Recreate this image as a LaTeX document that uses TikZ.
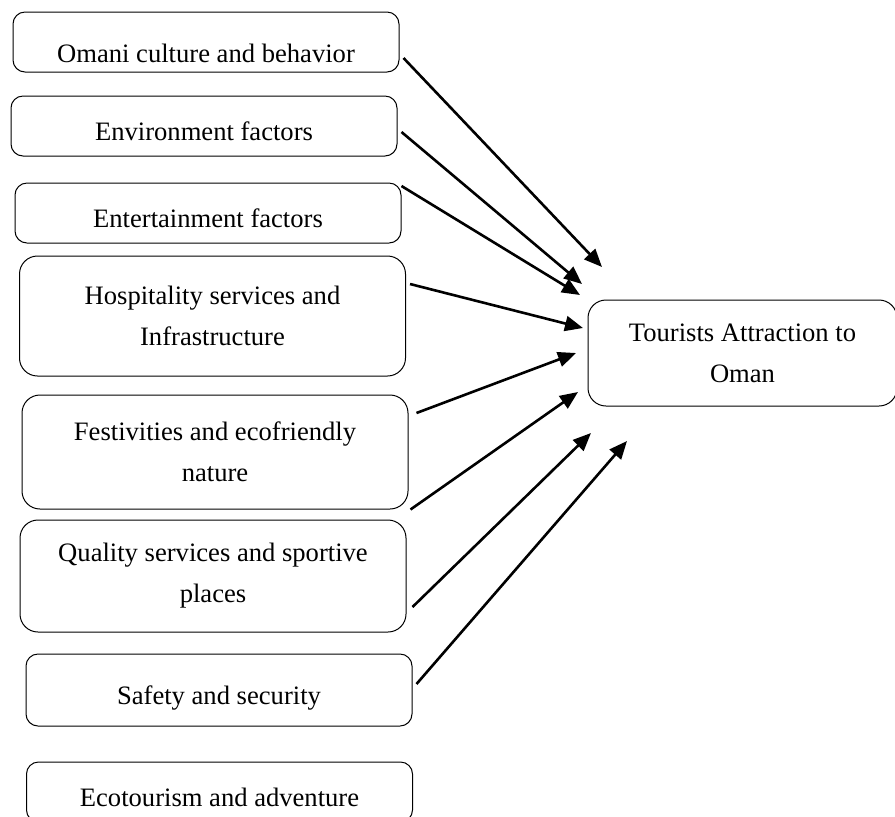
\documentclass[tikz,border=0pt]{standalone}
\usepackage{fontspec}
\setmainfont{Liberation Serif}
\usetikzlibrary{arrows.meta}
\begin{document}
\begin{tikzpicture}[x=0.5pt,y=-0.5pt,
    factor/.style={draw,line width=0.5pt,rounded corners=6pt,minimum width=193pt,
      minimum height=30pt,align=center,font=\fontsize{13.3}{20.5}\selectfont},
    oneline/.style={text height=17pt,text depth=3pt},
    tall/.style={rounded corners=9pt},
    >={Triangle[length=9pt,width=7.5pt]}]
  \useasboundingbox (0,0) rectangle (895,816);
  \node [factor,oneline,text height=23pt,inner sep=1pt] (culture) at (206,42) {Omani culture and behavior};
  \node [factor,oneline] (environ) at (204,126) {Environment factors};
  \node [factor,oneline] (entert) at (208,213) {Entertainment factors};
  \node [factor,tall,minimum height=60pt] (hospit) at (212.5,316) {Hospitality services and\\Infrastructure};
  \node [factor,tall,minimum height=57pt] (festiv) at (215,452) {Festivities and ecofriendly\\nature};
  \node [factor,tall,minimum height=56pt] (quality) at (213,576) {Quality services and sportive\\places};
  \node [factor,oneline,minimum height=36pt] (safety) at (219,690) {Safety and security};
  \node [factor,oneline] (ecotour) at (219.5,792) {Ecotourism and adventure};
  \node [factor,tall,minimum width=154.5pt,minimum height=53pt] (attract) at (742.5,353) {Tourists Attraction to\\Oman};
  \coordinate (t1) at (602,267);
  \coordinate (t2) at (582,284);
  \coordinate (t3) at (580,295);
  \coordinate (t4) at (583,328);
  \coordinate (t5) at (576,353);
  \coordinate (t6) at (578,392);
  \coordinate (t7) at (591,433);
  \coordinate (t8) at (627,441);
  \draw [->,line width=1.3pt] ([xshift=2pt,yshift=-8pt]culture.east) -- (t1);
  \draw [->,line width=1.3pt] ([xshift=2pt,yshift=-3pt]environ.east) -- (t2);
  \draw [->,line width=1.3pt] ([yshift=13.5pt]entert.east) -- (t3);
  \draw [->,line width=1.3pt] ([xshift=2pt,yshift=16pt]hospit.east) -- (t4);
  \draw [->,line width=1.3pt] ([xshift=4pt,yshift=19.5pt]festiv.east) -- (t5);
  \draw [->,line width=1.3pt] ([xshift=1pt]festiv.south east) -- (t6);
  \draw [->,line width=1.3pt] ([xshift=3pt,yshift=-15.5pt]quality.east) -- (t7);
  \draw [->,line width=1.3pt] ([xshift=2pt,yshift=3pt]safety.east) -- (t8);
\end{tikzpicture}
\end{document}
